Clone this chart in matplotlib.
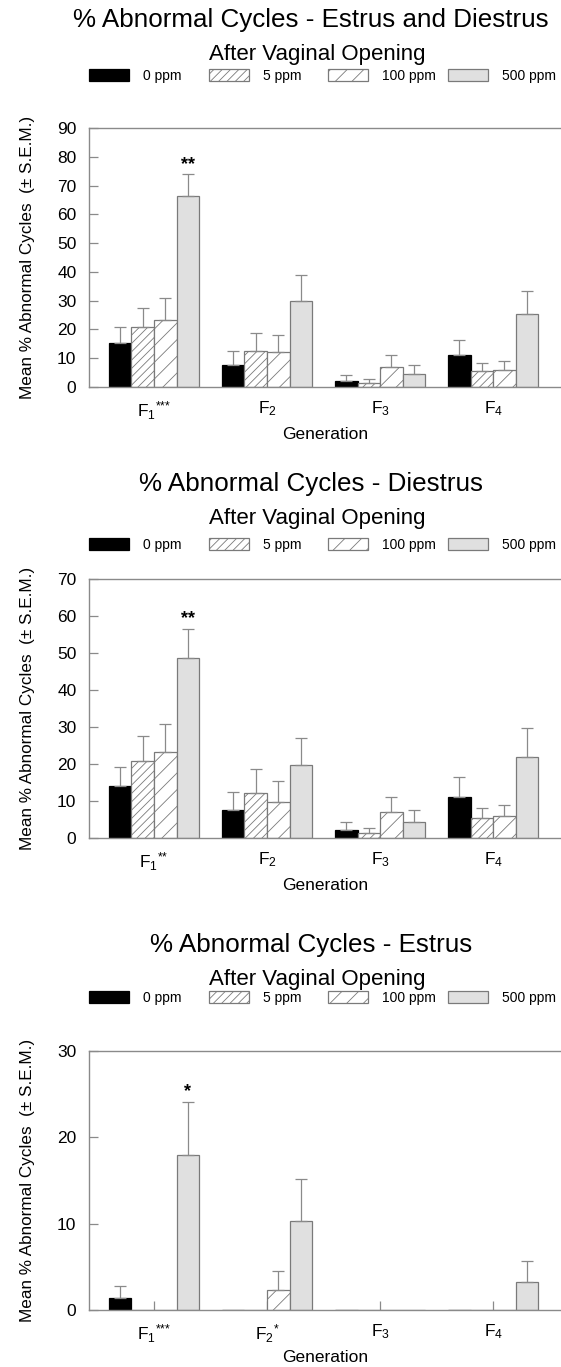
import numpy as np
import matplotlib.pyplot as plt
from matplotlib.patches import Patch

plt.rcParams['font.family'] = ['Liberation Sans', 'DejaVu Sans']
plt.rcParams['mathtext.fontset'] = 'custom'
plt.rcParams['mathtext.rm'] = 'Liberation Sans'
plt.rcParams['mathtext.it'] = 'Liberation Sans:italic'
plt.rcParams['mathtext.bf'] = 'Liberation Sans:bold'
plt.rcParams['mathtext.default'] = 'regular'
plt.rcParams['hatch.linewidth'] = 0.6

doses = ['0 ppm', '5 ppm', '100 ppm', '500 ppm']
generations = [1, 2, 3, 4]

# rows = dose (0, 5, 100, 500 ppm), columns = generation F1..F4
ed_mean = [[15.3, 7.5, 2.1, 11.2],
           [20.8, 12.4, 1.4, 5.4],
           [23.2, 12.3, 7.1, 6.0],
           [66.5, 29.9, 4.4, 25.3]]
ed_sem = [[5.5, 4.9, 2.1, 5.1],
          [6.7, 6.2, 1.4, 2.9],
          [7.7, 5.7, 4.0, 2.9],
          [7.5, 8.9, 3.2, 8.2]]
ed_gen_stars = ['***', '', '', '']
ed_sig = ['**', '', '', '']

di_mean = [[14.0, 7.6, 2.1, 11.2],
           [20.8, 12.2, 1.4, 5.3],
           [23.2, 9.8, 7.0, 5.9],
           [48.6, 19.7, 4.4, 21.9]]
di_sem = [[5.1, 4.7, 2.1, 5.2],
          [6.8, 6.4, 1.3, 2.9],
          [7.7, 5.7, 4.1, 2.9],
          [8.0, 7.2, 3.3, 7.8]]
di_gen_stars = ['**', '', '', '']
di_sig = ['**', '', '', '']

es_mean = [[1.35, 0, 0, 0],
           [0, 0, 0, 0],
           [0, 2.3, 0, 0],
           [18.0, 10.3, 0, 3.3]]
es_sem = [[1.4, 0, 0, 0],
          [0, 0, 0, 0],
          [0, 2.2, 0, 0],
          [6.1, 4.9, 0, 2.4]]
es_gen_stars = ['***', '*', '', '']
es_sig = ['*', '', '', '']

face = ['black', 'white', 'white', '#e0e0e0']
edge = ['black', '#7a7a7a', '#7a7a7a', '#7a7a7a']
hatches = [None, '////', '//', None]
grey = '#8a8a8a'

W, H = 561, 1367
fig = plt.figure(figsize=(W / 100, H / 100), dpi=100)


def fx(px):
    return px / W


def fy(py):
    return 1 - py / H


panels = [
    # title, means, sems, ymax, gen stars, bar stars, title base, legend y, axes top
    ('% Abnormal Cycles - Estrus and Diestrus', ed_mean, ed_sem, 90, ed_gen_stars, ed_sig, 27, 76, 128),
    ('% Abnormal Cycles - Diestrus', di_mean, di_sem, 70, di_gen_stars, di_sig, 491, 545, 579),
    ('% Abnormal Cycles - Estrus', es_mean, es_sem, 30, es_gen_stars, es_sig, 952, 998, 1051),
]

ax_left, ax_h = 89, 259
x = np.arange(len(generations))
w = 0.2

for title, means, sems, ymax, gstars, sig, t_y, leg_y, top in panels:
    ax = fig.add_axes([fx(ax_left), fy(top + ax_h), 1 - fx(ax_left), ax_h / H])
    for i in range(4):
        off = (i - 1.5) * w
        ax.bar(x + off, means[i], w, color=face[i], edgecolor=edge[i],
               hatch=hatches[i], linewidth=0.9, zorder=2)
        m = np.array(means[i])
        s = np.array(sems[i])
        keep = s > 0
        ax.errorbar((x + off)[keep], m[keep], yerr=[np.zeros(keep.sum()), s[keep]],
                    fmt='none', ecolor=grey, elinewidth=0.9, capsize=4.5,
                    capthick=0.9, zorder=3)
        if i == 3:
            for j in range(4):
                if sig[j]:
                    ax.annotate(sig[j], (x[j] + off, m[j] + s[j]), xytext=(0, 1),
                                textcoords='offset points', ha='center', va='bottom',
                                fontsize=13, fontweight='bold')

    ax.set_xlim(-0.575, 3.6)
    ax.set_ylim(0, ymax)
    ax.set_yticks(np.arange(0, ymax + 1, 10))
    labels = []
    for g, st in zip(generations, gstars):
        lab = r'F$_{%d}$' % g
        if st:
            # braces keep mathtext from spacing the asterisks as operators
            lab += r'$^{%s}$' % ''.join('{*}' for _ in st)
        labels.append(lab)
    ax.set_xticks(x)
    ax.set_xticklabels(labels)
    ax.tick_params(direction='in', length=6.5, width=0.9, color=grey, labelsize=12.5)
    ax.tick_params(axis='y', pad=9)
    ax.tick_params(axis='x', pad=9)
    for sp in ['left', 'bottom', 'top']:
        ax.spines[sp].set_color(grey)
        ax.spines[sp].set_linewidth(1)
    ax.spines['right'].set_visible(False)

    ax.set_ylabel('Mean % Abnormal Cycles  (± S.E.M.)', fontsize=12.3)
    ax.yaxis.set_label_coords(-0.115, 0.5)
    ax.set_xlabel('Generation', fontsize=12.5)
    ax.xaxis.set_label_coords(0.5, -0.155)

    fig.text(fx(311), fy(t_y), title, ha='center', va='baseline', fontsize=18.7)
    fig.text(fx(317), fy(t_y + 33), 'After Vaginal Opening', ha='center',
             va='baseline', fontsize=16)

    for i, lab in enumerate(doses):
        h = Patch(facecolor=face[i], edgecolor=edge[i], hatch=hatches[i], linewidth=0.9)
        fig.legend(handles=[h], labels=[lab], loc='center left',
                   bbox_to_anchor=(fx(89 + i * 119.5), fy(leg_y)), frameon=False,
                   fontsize=10, handlelength=2.9, handleheight=0.95,
                   handletextpad=1.0, borderpad=0, borderaxespad=0)

fig.savefig('out.png', dpi=100)
